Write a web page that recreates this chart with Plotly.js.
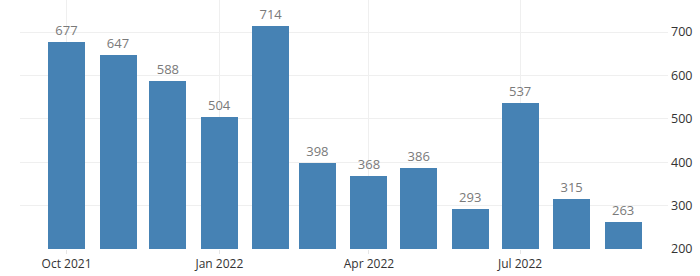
<!DOCTYPE html>
<html>
<head>
<meta charset="utf-8">
<script src="https://cdn.plot.ly/plotly-3.0.1.min.js"></script>
<style>html,body{margin:0;padding:0;background:#fff;}#chart{width:700px;height:276px;}</style>
</head>
<body>
<div id="chart"></div>
<script>
const months = ["2021-10-01","2021-11-01","2021-12-01","2022-01-01","2022-02-01","2022-03-01","2022-04-01","2022-05-01","2022-06-01","2022-07-01","2022-08-01","2022-09-01"];
const values = [677, 647, 588, 504, 714, 398, 368, 386, 293, 537, 315, 263];
const tickDates = ["2021-10-01","2022-01-01","2022-04-01","2022-07-01"];
const tickLabels = ["Oct 2021","Jan 2022","Apr 2022","Jul 2022"];
const yTicks = [200, 300, 400, 500, 600, 700];

const DAY = 86400000;
const trace = {
  type: 'bar',
  x: months,
  y: values,
  width: months.map(() => 22.3 * DAY),
  marker: {color: '#4682b4', line: {width: 0}},
  text: values.map(String),
  textposition: 'outside',
  constraintext: 'none',
  cliponaxis: true,
  textfont: {family: 'Open Sans, sans-serif', size: 13, color: '#7a7a7a'},
  hoverinfo: 'none'
};
const layout = {
  width: 700, height: 276,
  margin: {l: 20, r: 32, t: 0, b: 27},
  paper_bgcolor: '#fff', plot_bgcolor: '#fff',
  showlegend: false,
  bargap: 0,
  font: {family: 'Open Sans, sans-serif', size: 12, color: '#333'},
  xaxis: {
    type: 'date',
    range: ['2021-09-03', '2022-09-28'],
    tickvals: tickDates,
    ticktext: tickLabels,
    showgrid: true, gridcolor: '#efefef', gridwidth: 1,
    ticks: 'outside', ticklen: 4, tickcolor: '#e6e6e6',
    zeroline: false, showline: false,
    tickfont: {size: 12, color: '#333'}
  },
  yaxis: {
    side: 'right',
    range: [200, 774],
    tickvals: yTicks,
    ticktext: yTicks.map(String),
    showgrid: true, gridcolor: '#efefef', gridwidth: 1,
    zeroline: false, showline: false,
    ticks: '', ticklabelstandoff: 2,
    tickfont: {size: 12.5, color: '#333'}
  }
};
Plotly.newPlot('chart', [trace], layout, {staticPlot: true, displayModeBar: false});
</script>
</body>
</html>
